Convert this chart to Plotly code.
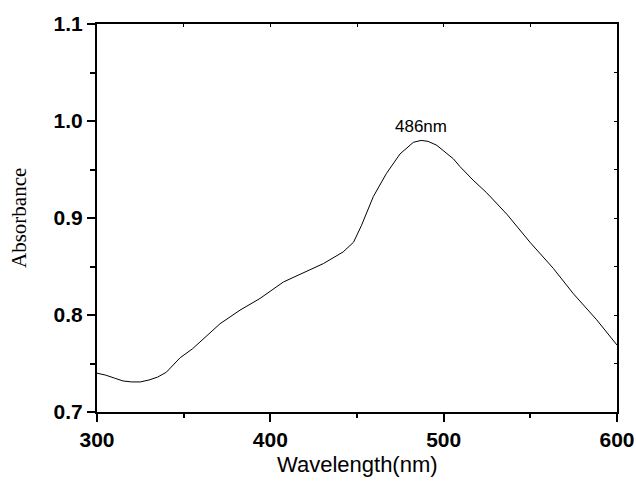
import plotly.graph_objects as go

wavelength = [300, 305, 310, 315, 320, 325, 330, 335, 340, 348, 355, 361, 371, 382.5, 394,
              407.5, 421, 430.6, 442, 448, 452.5, 459.4, 467, 474.8, 482.5, 487, 491, 496,
              505.6, 509.4, 517, 524.8, 536.4, 549.8, 563.3, 574.8, 588.3, 600]
absorbance = [0.740, 0.738, 0.735, 0.732, 0.731, 0.731, 0.733, 0.736, 0.741, 0.756, 0.765,
              0.775, 0.791, 0.805, 0.817, 0.834, 0.845, 0.853, 0.865, 0.875, 0.892, 0.922,
              0.946, 0.966, 0.978, 0.980, 0.979, 0.975, 0.961, 0.953, 0.939, 0.926, 0.904,
              0.875, 0.848, 0.822, 0.795, 0.769]
peak_label = "486nm"
peak_x = 487
peak_y = 0.980
x_ticks = [300, 400, 500, 600]
y_ticks = [0.7, 0.8, 0.9, 1.0, 1.1]
y_ticktext = ["0.7", "0.8", "0.9", "1.0", "1.1"]
x_title = "Wavelength(nm)"
y_title = "Absorbance"

fig = go.Figure()
fig.add_trace(go.Scatter(x=wavelength, y=absorbance, mode="lines",
                         line=dict(color="black", width=1), showlegend=False))
fig.add_trace(go.Scatter(x=[300, 600], y=[0.7, 1.1], mode="markers", xaxis="x2", yaxis="y2",
                         marker=dict(opacity=0), showlegend=False, hoverinfo="skip"))

fig.add_annotation(x=peak_x, y=peak_y, text=peak_label, showarrow=False, yshift=14,
                   font=dict(family="Liberation Sans, Arial", size=17, color="black"))
fig.add_annotation(xref="paper", yref="paper", x=0.5, y=0, yshift=-52, text=x_title,
                   showarrow=False, xanchor="center", yanchor="middle",
                   font=dict(family="Liberation Sans, Arial", size=22, color="black"))
fig.add_annotation(xref="paper", yref="paper", x=0, y=0.5, xshift=-78, text=y_title,
                   showarrow=False, xanchor="center", yanchor="middle", textangle=-90,
                   font=dict(family="Liberation Serif, Times New Roman", size=21, color="black"))

tickfont = dict(family="Liberation Sans, Arial", size=21, color="black", weight="bold")
fig.update_layout(
    width=636, height=484,
    margin=dict(l=97, r=19, t=24, b=72, autoexpand=False),
    paper_bgcolor="white", plot_bgcolor="white",
    xaxis=dict(range=[300, 600], tickvals=x_ticks, ticktext=[str(v) for v in x_ticks],
               ticks="outside", ticklen=8, tickwidth=1.5, tickcolor="black",
               minor=dict(dtick=50, tick0=300, ticks="outside", ticklen=4, tickwidth=1.5, tickcolor="black"),
               showline=True, linecolor="black", linewidth=2, showgrid=False, zeroline=False,
               tickfont=tickfont),
    yaxis=dict(range=[0.7, 1.1], tickvals=y_ticks, ticktext=y_ticktext,
               ticks="outside", ticklen=8, tickwidth=1.5, tickcolor="black",
               minor=dict(dtick=0.05, tick0=0.7, ticks="outside", ticklen=5, tickwidth=1.5, tickcolor="black"),
               showline=True, linecolor="black", linewidth=2, showgrid=False, zeroline=False,
               tickfont=tickfont),
    xaxis2=dict(range=[300, 600], overlaying="x", side="top", dtick=50, tick0=300,
                ticks="inside", ticklen=3, tickwidth=1, tickcolor="black", showticklabels=False,
                showline=True, linecolor="black", linewidth=2, showgrid=False, zeroline=False),
    yaxis2=dict(range=[0.7, 1.1], overlaying="y", side="right", dtick=0.05, tick0=0.7,
                ticks="inside", ticklen=3, tickwidth=1, tickcolor="black", showticklabels=False,
                showline=True, linecolor="black", linewidth=2, showgrid=False, zeroline=False),
)

fig.write_html("out.html", config={"displayModeBar": False},
               post_script="document.body.style.margin='0';document.body.style.overflow='hidden';")
